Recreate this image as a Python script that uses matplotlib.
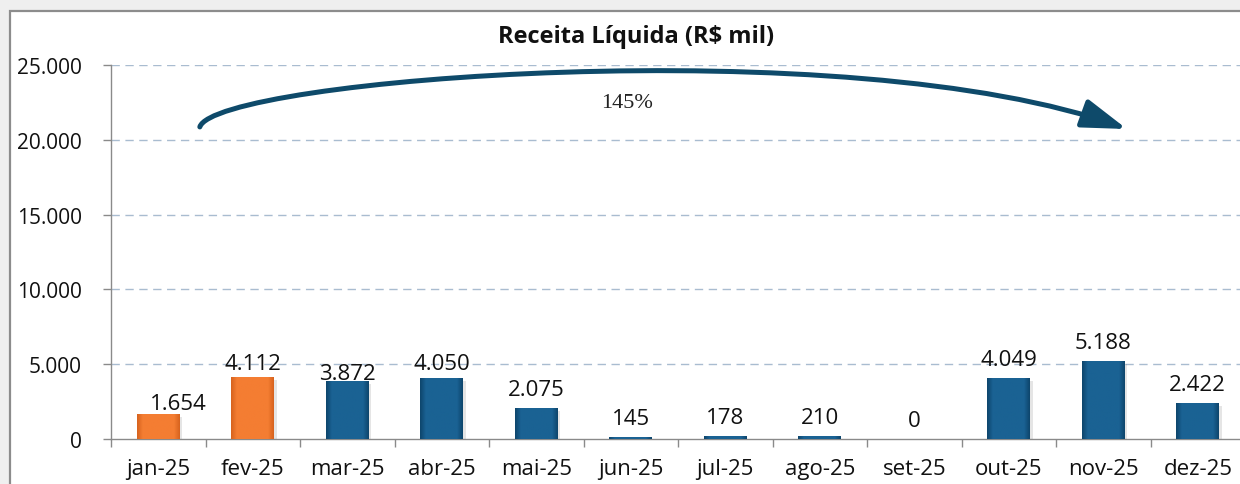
import matplotlib
matplotlib.use("Agg")
import matplotlib.pyplot as plt
import matplotlib.patheffects as pe
from matplotlib.patches import FancyArrowPatch, Rectangle
from matplotlib.path import Path
from matplotlib.colors import LinearSegmentedColormap
from matplotlib.ticker import FuncFormatter, FixedLocator
import numpy as np

# ── Dados ─────────────────────────────────────────────────────────────────────
meses   = ["jan-25", "fev-25", "mar-25", "abr-25", "mai-25", "jun-25",
           "jul-25", "ago-25", "set-25", "out-25", "nov-25", "dez-25"]
receita = [1654, 4112, 3872, 4050, 2075, 145, 178, 210, 0, 4049, 5188, 2422]
destaque = [True, True] + [False] * 10      # meses em laranja
variacao = "145%"
yticks  = [0, 5000, 10000, 15000, 20000, 25000]

ORANGE = ("#D8641F", "#F47D32")
BLUE   = ("#0E476E", "#1A6293")
ARROW  = "#0E4A6A"
GRID   = "#A9BCD0"
AXIS   = "#8A8A8A"
TXT    = "#111111"

plt.rcParams["font.family"] = ["Open Sans", "DejaVu Sans"]

fig = plt.figure(figsize=(12.4, 4.85), dpi=100)
fig.patch.set_facecolor("#EFEFEF")

# moldura branca do gráfico
fig.patches.append(Rectangle((10 / 1240, -0.05), 1.1, 1 - 12 / 485 + 0.05,
                             transform=fig.transFigure, facecolor="white",
                             edgecolor="#8C8C8C", linewidth=1.6, zorder=-5))

ax = fig.add_axes([111 / 1240, 45 / 485, 1134 / 1240, 374 / 485])
ax.set_facecolor("none")

x = np.arange(len(meses))
cores = [ORANGE if d else BLUE for d in destaque]
bars = ax.bar(x, receita, width=0.45, color=[c[1] for c in cores],
              edgecolor="none", zorder=3)

# gradiente suave nas laterais das barras
grad = np.concatenate([np.linspace(0, 1, 6), np.ones(28), np.linspace(1, 0, 6)])[None, :]
for bar, c in zip(bars, cores):
    if bar.get_height() <= 0:
        continue
    bar.set_path_effects([pe.SimplePatchShadow(offset=(2, -2), alpha=0.15,
                                               shadow_rgbFace="#555555"),
                          pe.Normal()])
    cmap = LinearSegmentedColormap.from_list("g", [c[0], c[1]])
    x0, w, h = bar.get_x(), bar.get_width(), bar.get_height()
    im = ax.imshow(grad, cmap=cmap, aspect="auto", extent=(x0, x0 + w, 0, h),
                   zorder=4, interpolation="bilinear")
    im.set_clip_path(bar)

# rótulos de valor (deslocamento em pixels)
desloc = {0: (20, 5), 1: (0, 8), 2: (0, 2), 3: (0, 9)}
for i, (xi, v) in enumerate(zip(x, receita)):
    dx, dy = desloc.get(i, (0, 13))
    ax.annotate(f"{v:,}".replace(",", "."), (xi, v), xytext=(dx, dy),
                textcoords="offset pixels", ha="center", va="baseline",
                fontsize=16, color=TXT, zorder=6)

# eixos
ax.set_xlim(-0.5, len(meses) - 0.5)
ax.set_ylim(0, 25000)
ax.set_xticks(x)
ax.set_xticklabels(meses, fontsize=16, color=TXT)
ax.xaxis.set_minor_locator(FixedLocator(np.arange(-0.5, len(meses), 1)))
ax.tick_params(axis="x", which="major", length=0, pad=14)
ax.tick_params(axis="x", which="minor", length=6, color=AXIS, width=1)
ax.set_yticks(yticks)
ax.yaxis.set_major_formatter(FuncFormatter(lambda v, p: f"{int(v):,}".replace(",", ".")))
ax.tick_params(axis="y", length=6, color=AXIS, width=1, labelsize=15,
               labelcolor=TXT, pad=15)
for s in ["top", "right"]:
    ax.spines[s].set_visible(False)
for s in ["left", "bottom"]:
    ax.spines[s].set_color(AXIS)
    ax.spines[s].set_linewidth(1)
for yv in yticks[1:]:
    ax.axhline(yv, color=GRID, linewidth=1, linestyle=(0, (6, 4)), zorder=1)

# título
fig.text(636 / 1240, 1 - 37 / 485, "Receita Líquida (R$ mil)", ha="center",
         va="center", fontsize=17, fontweight="bold", color=TXT)

# seta curva de variação jan → nov
verts = [(0.44, 20860), (0.60, 24060), (7.32, 27400), (10.25, 20720)]
codes = [Path.MOVETO, Path.CURVE4, Path.CURVE4, Path.CURVE4]
seta = FancyArrowPatch(path=Path(verts, codes),
                       arrowstyle="-|>,head_length=1.7,head_width=0.55",
                       mutation_scale=16, color=ARROW, linewidth=3.6,
                       transform=ax.transData, clip_on=False, zorder=5)
ax.add_patch(seta)
ax.text(4.96, 22520, variacao, ha="center", va="center", fontsize=16,
        family="Liberation Serif", color="#222222", zorder=6)

fig.savefig("out.png", dpi=100)
